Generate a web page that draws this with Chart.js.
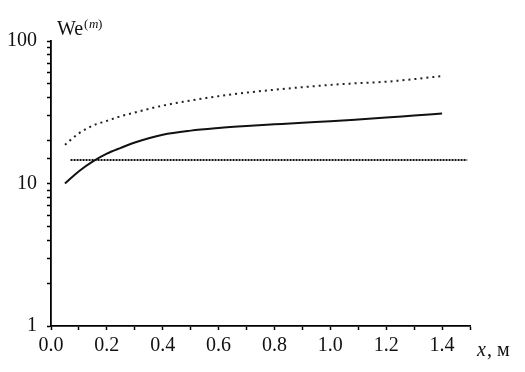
<!DOCTYPE html>
<html>
<head>
<meta charset="utf-8">
<script src="https://cdn.jsdelivr.net/npm/chart.js@4.4.0/dist/chart.umd.min.js"></script>
<style>
  html, body { margin: 0; padding: 0; background: #fff; }
  #wrap { width: 525px; height: 372px; position: relative; }
</style>
</head>
<body>
<div id="wrap"><canvas id="weChart"></canvas></div>
<script>
// x positions, m
const xCurve = [0.05, 0.1, 0.15, 0.2, 0.25, 0.3, 0.4, 0.5, 0.6, 0.7, 0.8, 0.9, 1.0, 1.1, 1.2, 1.3, 1.4];
// solid curve
const weSolid = [10.0, 12.2, 14.3, 16.2, 17.8, 19.4, 22.0, 23.5, 24.5, 25.3, 26.0, 26.7, 27.3, 28.1, 29.0, 30.0, 31.0];
// upper dotted curve
const weUpper = [18.7, 22.5, 25.5, 27.5, 29.7, 31.5, 35.2, 38.2, 41.0, 43.4, 45.5, 47.4, 49.2, 50.6, 51.8, 54.0, 56.8];
// horizontal dotted level
const xLevel = [0.07, 1.49];
const weLevel = [14.6, 14.6];

const yLabels = [1, 10, 100];
const xLabels = [0.0, 0.2, 0.4, 0.6, 0.8, 1.0, 1.2, 1.4];

const toPoints = (xs, ys) => xs.map((x, i) => ({ x: x, y: ys[i] }));

const serif = "'Liberation Serif', 'DejaVu Serif', serif";

// axis titles drawn as text on the canvas
const titles = {
  id: "titles",
  afterDraw(chart) {
    const ctx = chart.ctx;
    ctx.save();
    ctx.fillStyle = "#111";
    ctx.textBaseline = "alphabetic";
    ctx.font = "20px " + serif;
    ctx.fillText("We", 57, 35);
    ctx.font = "13px " + serif;
    ctx.fillText("(", 84, 28);
    ctx.font = "italic 13px " + serif;
    ctx.fillText("m", 89, 28);
    ctx.font = "13px " + serif;
    ctx.fillText(")", 98, 28);

    ctx.font = "italic 20px " + serif;
    ctx.fillText("x", 477, 356);
    ctx.font = "20px " + serif;
    ctx.fillText(", м", 487, 356);
    ctx.restore();
  }
};

new Chart(document.getElementById("weChart"), {
  type: "line",
  data: {
    datasets: [
      {
        data: toPoints(xCurve, weSolid),
        borderColor: "#111",
        borderWidth: 2,
        pointRadius: 0,
        cubicInterpolationMode: "monotone",
        fill: false
      },
      {
        data: toPoints(xCurve, weUpper),
        borderColor: "#222",
        borderWidth: 2,
        borderDash: [2, 4],
        pointRadius: 0,
        cubicInterpolationMode: "monotone",
        fill: false
      },
      {
        data: toPoints(xLevel, weLevel),
        borderColor: "#111",
        borderWidth: 2,
        borderDash: [2, 1],
        pointRadius: 0,
        fill: false
      }
    ]
  },
  options: {
    responsive: true,
    maintainAspectRatio: false,
    animation: false,
    layout: { padding: { left: 0, right: 55, top: 41, bottom: 0 } },
    plugins: {
      legend: { display: false },
      tooltip: { enabled: false }
    },
    scales: {
      x: {
        type: "linear",
        min: 0,
        max: 1.5,
        border: { display: true, color: "#000", width: 1.8 },
        grid: { drawOnChartArea: false, drawTicks: true, tickLength: 4, tickColor: "#000", tickWidth: 1.5 },
        afterFit: (scale) => { scale.height = 46; },
        ticks: {
          stepSize: 0.1,
          autoSkip: false,
          maxRotation: 0,
          padding: 4,
          color: "#111",
          font: { family: serif, size: 20 },
          callback: (value) => {
            const v = Math.round(value * 10) / 10;
            return xLabels.some(l => Math.abs(l - v) < 1e-6) ? v.toFixed(1) : "";
          }
        }
      },
      y: {
        type: "logarithmic",
        min: 1,
        max: 100,
        border: { display: true, color: "#000", width: 1.8 },
        grid: { drawOnChartArea: false, drawTicks: true, tickLength: 4, tickColor: "#000", tickWidth: 1.5 },
        afterFit: (scale) => { scale.width = 51; },
        ticks: {
          autoSkip: false,
          padding: 10,
          color: "#111",
          font: { family: serif, size: 20 },
          callback: (value) => (yLabels.includes(value) ? String(value) : "")
        }
      }
    }
  },
  plugins: [titles]
});
</script>
</body>
</html>
